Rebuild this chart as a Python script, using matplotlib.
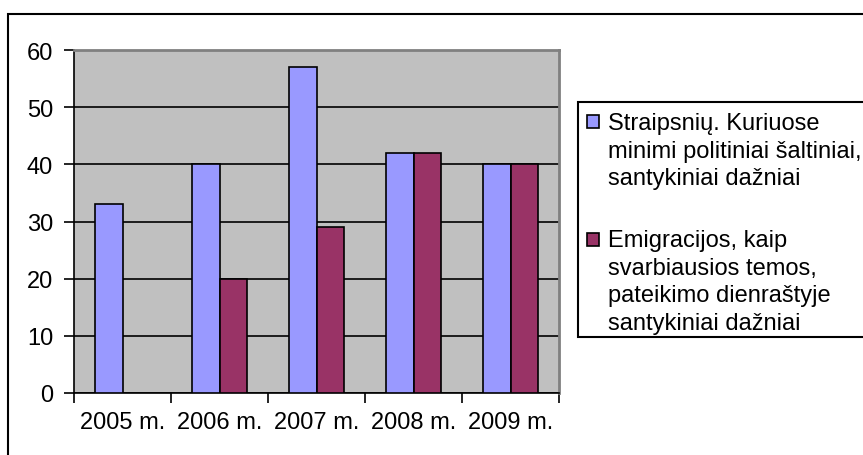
import matplotlib
matplotlib.use("Agg")
import matplotlib.pyplot as plt
from matplotlib.patches import Rectangle
import numpy as np

categories = ["2005 m.", "2006 m.", "2007 m.", "2008 m.", "2009 m."]
series1_name = "Straipsnių. Kuriuose\nminimi politiniai šaltiniai,\nsantykiniai dažniai"
series2_name = "Emigracijos, kaip\nsvarbiausios temos,\npateikimo dienraštyje\nsantykiniai dažniai"
series1 = [33, 40, 57, 42, 40]
series2 = [0, 20, 29, 42, 40]
yticks = [0, 10, 20, 30, 40, 50, 60]

plt.rcParams['font.family'] = ['Liberation Sans', 'DejaVu Sans']
FS = 17
LFS = 17

W, H = 863, 456
fig = plt.figure(figsize=(W / 100, H / 100), dpi=100)

def fx(px):
    return px / W

def fy(py):
    return 1 - py / H

# outer chart frame (only top/left visible)
fig.patches.append(Rectangle((fx(8), fy(900)), fx(900), fy(15) - fy(900),
                             transform=fig.transFigure, fill=False,
                             edgecolor='black', linewidth=1.5))

ax = fig.add_axes([fx(74), fy(394), fx(559) - fx(74), fy(51) - fy(394)])
ax.set_facecolor('#C0C0C0')

x = np.arange(len(categories))
w = 1 / 3.5
c1 = '#9999FF'
c2 = '#993366'
ax.bar(x - w / 2, series1, width=w, color=c1, edgecolor='black', linewidth=1.2, zorder=3)
mask = np.array(series2) > 0
ax.bar(x[mask] + w / 2, np.array(series2)[mask], width=w, color=c2,
       edgecolor='black', linewidth=1.2, zorder=3)

ax.set_xlim(-0.5, len(categories) - 0.5)
ax.set_ylim(0, 60)
ax.set_yticks(yticks)
ax.set_yticklabels([str(v) for v in yticks], fontsize=FS)
ax.yaxis.grid(True, color='black', linewidth=1.2, zorder=1)
ax.set_axisbelow(True)

ax.set_xticks(np.arange(len(categories) + 1) - 0.5)
ax.set_xticklabels([])
ax.set_xticks(x, minor=True)
ax.set_xticklabels(categories, minor=True, fontsize=FS)
ax.tick_params(axis='x', which='minor', length=0, pad=13)
ax.tick_params(axis='x', which='major', direction='out', length=7, width=1.2)
ax.tick_params(axis='y', direction='out', length=7, width=1.2, pad=8)

for s in ['top', 'right']:
    ax.spines[s].set_color('#808080')
    ax.spines[s].set_linewidth(2)
for s in ['left', 'bottom']:
    ax.spines[s].set_color('black')
    ax.spines[s].set_linewidth(1.2)

# legend (manual)
fig.patches.append(Rectangle((fx(578), fy(338)), fx(900) - fx(578), fy(103) - fy(338),
                             transform=fig.transFigure, facecolor='white',
                             edgecolor='black', linewidth=1.5))
fig.patches.append(Rectangle((fx(587), fy(129)), fx(12), fy(116) - fy(129),
                             transform=fig.transFigure, facecolor=c1,
                             edgecolor='black', linewidth=1.2))
fig.patches.append(Rectangle((fx(587), fy(247)), fx(12), fy(234) - fy(247),
                             transform=fig.transFigure, facecolor=c2,
                             edgecolor='black', linewidth=1.2))
fig.text(fx(608), fy(113), series1_name, fontsize=LFS, va='top', ha='left',
         linespacing=1.33)
fig.text(fx(608), fy(230), series2_name, fontsize=LFS, va='top', ha='left',
         linespacing=1.33)

fig.savefig('out.png', dpi=100)
